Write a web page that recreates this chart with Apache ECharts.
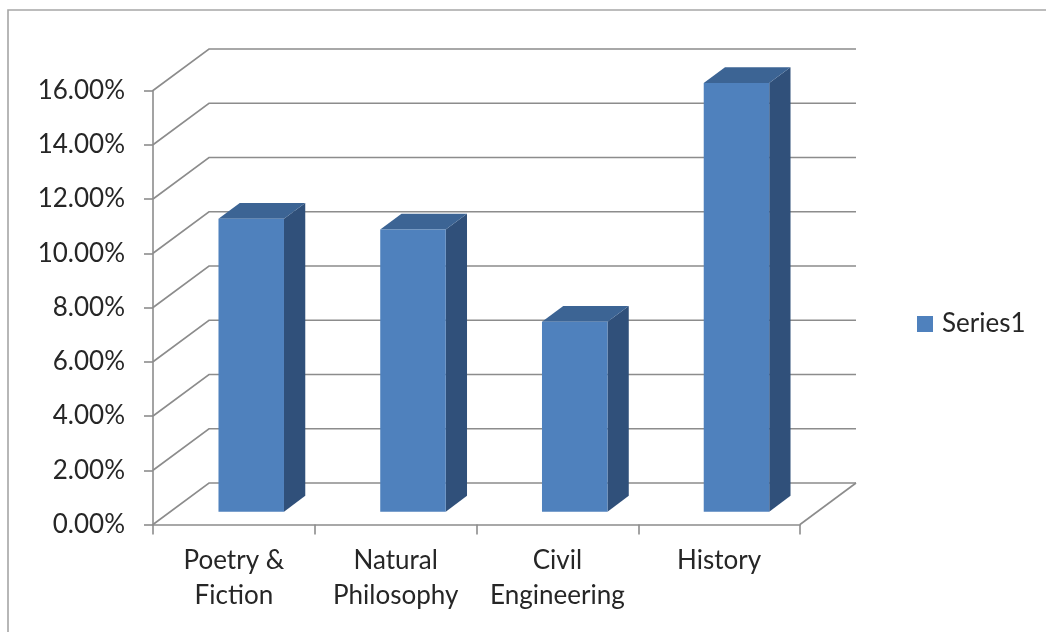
<!DOCTYPE html>
<html>
<head>
<meta charset="utf-8">
<script src="https://cdn.jsdelivr.net/npm/echarts@6/dist/echarts.min.js"></script>
<style>
  html, body { margin: 0; padding: 0; background: #fff; }
  #chart { width: 1046px; height: 632px; }
</style>
</head>
<body>
<div id="chart"></div>
<script>
// Chart data
const categories = ['Poetry &\nFiction', 'Natural\nPhilosophy', 'Civil\nEngineering', 'History'];
const seriesName = 'Series1';
const values = [0.108, 0.104, 0.070, 0.158];
const yTicks = [0, 0.02, 0.04, 0.06, 0.08, 0.10, 0.12, 0.14, 0.16];

// 3D projection: pixel offset from the front plane to the back wall
const DEPTH = [56, -41.5];
const BAR_OFFSET = 0.31;   // bar front face position within the depth
const BAR_DEPTH = 0.38;    // bar thickness as fraction of the depth
const BAR_WIDTH = 0.405;   // bar width as fraction of a category band

const FONT = 'Lato, "Open Sans", sans-serif';
const FONT_SIZE = 26;
const GRID_COLOR = '#8c8c8c';
const TEXT_COLOR = '#262626';

const chart = echarts.init(document.getElementById('chart'), null, { renderer: 'canvas' });

chart.setOption({
  backgroundColor: '#fff',
  animation: false,
  textStyle: { fontFamily: FONT },
  graphic: [{
    type: 'rect',
    shape: { x: 8, y: 10, width: 1100, height: 700 },
    style: { fill: 'none', stroke: '#a6a6a6', lineWidth: 1.6 },
    silent: true,
    z: -10
  }],
  legend: {
    data: [seriesName],
    left: 917,
    top: 311,
    padding: 0,
    icon: 'rect',
    itemWidth: 16,
    itemHeight: 16,
    itemGap: 0,
    textStyle: { fontFamily: FONT, fontSize: FONT_SIZE, color: TEXT_COLOR, padding: [0, 0, 0, 4], lineHeight: 25 }
  },
  grid: { left: 153, right: 246, top: 90.5, bottom: 107.5 },
  xAxis: {
    type: 'category',
    data: categories,
    axisLine: { show: true, lineStyle: { color: GRID_COLOR, width: 1.6 } },
    axisTick: { show: true, length: 10, lineStyle: { color: GRID_COLOR, width: 1.6 } },
    axisLabel: { fontFamily: FONT, fontSize: FONT_SIZE, color: TEXT_COLOR, lineHeight: 35, margin: 19, interval: 0 },
    splitLine: { show: false }
  },
  yAxis: {
    type: 'value',
    min: 0,
    max: 0.16,
    interval: 0.02,
    axisLine: { show: true, lineStyle: { color: GRID_COLOR, width: 1.6 } },
    axisTick: { show: true, length: 9, lineStyle: { color: GRID_COLOR, width: 1.6 } },
    axisLabel: {
      fontFamily: FONT, fontSize: FONT_SIZE, color: TEXT_COLOR, margin: 28,
      formatter: v => (v * 100).toFixed(2) + '%'
    },
    splitLine: { show: false }
  },
  series: [
    {
      // Side and back wall gridlines plus the floor edge
      type: 'custom',
      name: 'walls',
      silent: true,
      z: 1,
      data: yTicks.map(v => [0, v]),
      encode: { x: 0, y: 1 },
      renderItem(params, api) {
        const cs = params.coordSys;
        const y = api.coord([0, api.value(1)])[1];
        const xl = cs.x, xr = cs.x + cs.width;
        const children = [{
          type: 'polyline',
          shape: { points: [[xl, y], [xl + DEPTH[0], y + DEPTH[1]], [xr + DEPTH[0], y + DEPTH[1]]] },
          style: { stroke: GRID_COLOR, lineWidth: 1.6, fill: 'none' }
        }];
        if (api.value(1) === 0) {
          children.push({
            type: 'line',
            shape: { x1: xr, y1: y, x2: xr + DEPTH[0], y2: y + DEPTH[1] },
            style: { stroke: GRID_COLOR, lineWidth: 1.6 }
          });
        }
        return { type: 'group', children };
      }
    },
    {
      type: 'custom',
      name: seriesName,
      z: 5,
      itemStyle: { color: '#4f81bd' },
      data: values.map((v, i) => [i, v]),
      encode: { x: 0, y: 1 },
      renderItem(params, api) {
        const i = api.value(0), v = api.value(1);
        const base = api.coord([i, 0]);
        const top = api.coord([i, v]);
        const band = api.size([1, 0])[0];
        const w = band * BAR_WIDTH;
        const ox = DEPTH[0] * BAR_OFFSET, oy = DEPTH[1] * BAR_OFFSET;
        const bx = DEPTH[0] * BAR_DEPTH, by = DEPTH[1] * BAR_DEPTH;
        const x0 = base[0] - w / 2 + ox, x1 = x0 + w;
        const yb = base[1] + oy, yt = top[1] + oy;
        return {
          type: 'group',
          children: [
            {
              type: 'polygon',
              shape: { points: [[x1, yt], [x1 + bx, yt + by], [x1 + bx, yb + by], [x1, yb]] },
              style: { fill: '#30507a' }
            },
            {
              type: 'polygon',
              shape: { points: [[x0, yt], [x1, yt], [x1 + bx, yt + by], [x0 + bx, yt + by]] },
              style: { fill: '#3c6494' }
            },
            {
              type: 'rect',
              shape: { x: x0, y: yt, width: w, height: yb - yt },
              style: { fill: '#4f81bd' }
            }
          ]
        };
      }
    }
  ]
});
</script>
</body>
</html>
